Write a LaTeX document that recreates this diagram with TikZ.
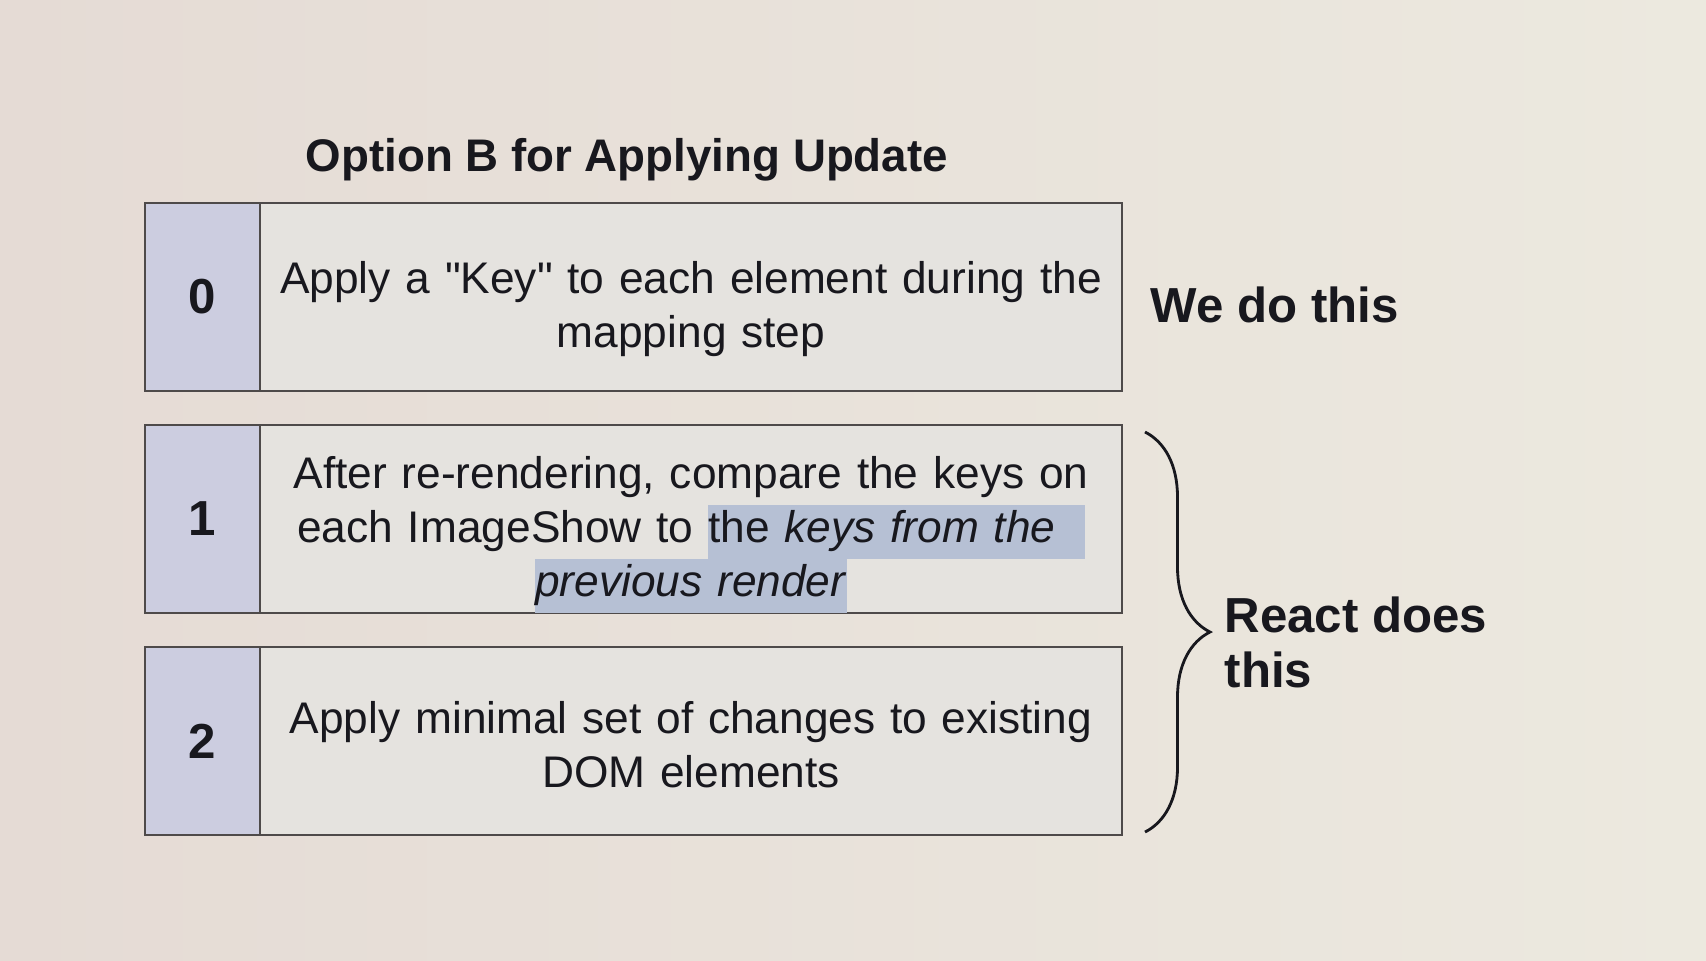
\documentclass[tikz,border=0pt]{standalone}
\usepackage{fontspec}
\setmainfont{Liberation Sans}[Ligatures=TeXOff]
\usetikzlibrary{positioning,calc,decorations.pathreplacing}
\definecolor{paperL}{RGB}{229,219,213}
\definecolor{paperR}{RGB}{236,233,223}
\definecolor{cellgrey}{RGB}{229,227,223}
\definecolor{numblue}{RGB}{204,205,224}
\definecolor{boxline}{RGB}{78,74,74}
\definecolor{hilite}{RGB}{182,192,212}
\definecolor{ink}{RGB}{24,24,30}
\newcommand{\hl}[1]{{\setlength{\fboxsep}{0pt}\colorbox{hilite}{\strut#1}}}

\begin{document}
\begin{tikzpicture}[node distance=3.4mm and 0pt, every node/.style={text=ink},
  numcell/.style={draw=boxline,fill=numblue,line width=0.7pt,outer sep=0pt,inner sep=0pt,
    minimum width=11.5mm,minimum height=18.8mm,font=\fontsize{14}{16}\selectfont\bfseries},
  stepcell/.style={draw=boxline,fill=cellgrey,line width=0.7pt,outer sep=0pt,inner sep=0pt,
    minimum width=86.2mm,minimum height=18.8mm,text width=85mm,align=center,
    font=\fontsize{12.6}{15.4}\selectfont},
  lbl/.style={inner sep=0pt,align=left,font=\fontsize{14}{15.6}\selectfont\bfseries},
  brc/.style={decorate,decoration={brace,amplitude=6.5mm},line width=0.8pt,draw=ink}]

% background and frame of the photo
\shade[left color=paperL,right color=paperR] (0,0) rectangle (17.06,-9.6);

\node[anchor=base west,inner sep=0pt,font=\fontsize{13}{15}\selectfont\bfseries] (title)
  at (3.05,-1.71) {Option B for Applying Update};

% the three steps
\node[numcell] (n0) at (2.025,-2.97) {0};
\node[stepcell,right=of n0] (t0) {\rule{0pt}{16pt}Apply a "Key" to each element during the\\mapping step};
\node[numcell,below=of n0] (n1) {1};
\node[stepcell,right=of n1] (t1) {\rule{0pt}{18pt}After re-rendering, compare the keys on\\
  each ImageShow to \hl{the \textit{keys from the}\ \ }\\
  \hl{\textit{previous render}}};
\node[numcell,below=of n1] (n2) {2};
\node[stepcell,right=of n2] (t2) {\rule{0pt}{11pt}Apply minimal set of changes to existing\\DOM elements};

% who does what
\node[lbl,right=2.8mm of t0,yshift=-0.8mm] (we) {We do this};
\draw[brc] ([xshift=2.3mm,yshift=-0.7mm]t1.north east) -- ([xshift=2.3mm,yshift=0.3mm]t2.south east);
\coordinate (tip) at ($(t1.north east)!0.5!(t2.south east)+(8.8mm,-0.2mm)$);
\node[lbl,right=1.4mm of tip,yshift=-1mm] (react) {React does\\this};
\end{tikzpicture}
\end{document}
